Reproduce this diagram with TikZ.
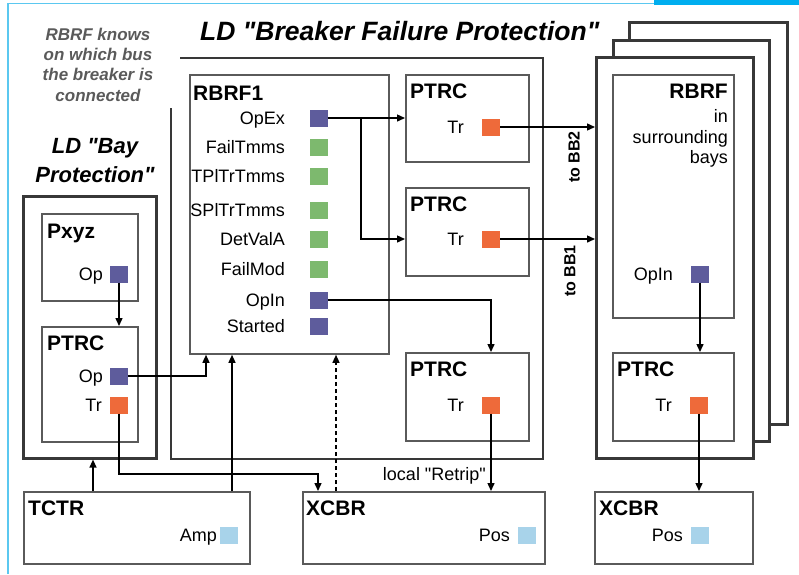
\documentclass[tikz,border=0pt]{standalone}
\usepackage{fontspec}
\setmainfont{Liberation Sans}[Ligatures=TeXOff]
\usetikzlibrary{arrows.meta}
\definecolor{sqpurple}{HTML}{5E5C9C}
\definecolor{sqgreen}{HTML}{7DB96E}
\definecolor{sqorange}{HTML}{EE6A3A}
\definecolor{sqblue}{HTML}{A8D3EA}
\definecolor{framecol}{HTML}{5BC8F0}
\definecolor{framecoltwo}{HTML}{00AEEF}
\definecolor{ldline}{HTML}{383838}
\definecolor{lnline}{HTML}{5A5A5A}
\definecolor{notegray}{HTML}{5A5A5A}
\begin{document}
\begin{tikzpicture}[x=1pt,y=-1pt,
  ldbox/.style={draw=ldline, line width=2.6pt, fill=white, anchor=north west, inner sep=0pt},
  lnbox/.style={draw=lnline, line width=1.8pt, fill=white, anchor=north west, inner sep=0pt},
  sq/.style={minimum width=18pt, minimum height=17pt, inner sep=0pt},
  head/.style={font=\fontsize{21}{21}\bfseries\selectfont, inner sep=0pt, anchor=base west},
  lab/.style={font=\fontsize{18}{18}\selectfont, inner sep=0pt, anchor=base east},
  note/.style={font=\fontsize{17}{17}\bfseries\itshape\selectfont, text=notegray, inner sep=0pt, anchor=base},
  arr/.style={draw=black, line width=1.4pt, -{Triangle[length=8pt,width=7pt]}},
  dasharr/.style={arr, dashed, dash pattern=on 4pt off 3pt}
]
\path[use as bounding box] (0,0) rectangle (799,574);
% frame
\draw[framecol, line width=1.5pt] (8,574) -- (8,3.5) -- (654,3.5);
\fill[framecoltwo] (654,0) rectangle (799,4.5);

% annotation
\node[note] (n1) at (98,40) {RBRF knows};
\node[note] (n2) at (98,60) {on which bus};
\node[note] (n3) at (98,80) {the breaker is};
\node[note] (n4) at (98,101) {connected};

% titles
\node[anchor=base west, inner sep=0pt, font=\fontsize{26.5}{26.5}\bfseries\itshape\selectfont] (title) at (200,40) {LD "Breaker Failure Protection"};
\node[anchor=base, inner sep=0pt, font=\fontsize{22}{22}\bfseries\itshape\selectfont] (bayt1) at (95,153) {LD "Bay};
\node[anchor=base, inner sep=0pt, font=\fontsize{22}{22}\bfseries\itshape\selectfont] (bayt2) at (95,182) {Protection"};

% LD boxes
\draw[ldline, line width=2.6pt] (180,58) -- (543,58) -- (543,459) -- (171,459) -- (171,108);
\node[ldbox, minimum width=133pt, minimum height=262pt] (bay) at (22,195) {};
\node[ldbox, minimum width=158pt, minimum height=402pt] (bk3) at (628,21) {};
\node[ldbox, minimum width=156pt, minimum height=401pt] (bk2) at (612,39) {};
\node[ldbox, minimum width=157pt, minimum height=401pt] (front) at (595,56) {};

% LN boxes
\node[lnbox, minimum width=96pt, minimum height=87pt] (pxyz) at (41,213) {};
\node[lnbox, minimum width=96pt, minimum height=115pt] (ptl) at (41,326) {};
\node[lnbox, minimum width=199pt, minimum height=279pt] (rbrf) at (189,74) {};
\node[lnbox, minimum width=123pt, minimum height=87pt] (pt1) at (405,74) {};
\node[lnbox, minimum width=123pt, minimum height=88pt] (pt2) at (405,187) {};
\node[lnbox, minimum width=123pt, minimum height=88pt] (pt3) at (405,352) {};
\node[lnbox, minimum width=121pt, minimum height=243pt] (rbrfr) at (612,74) {};
\node[lnbox, minimum width=121pt, minimum height=88pt] (ptr) at (612,352) {};
\node[lnbox, minimum width=226pt, minimum height=72pt] (tctr) at (23,491) {};
\node[lnbox, minimum width=242pt, minimum height=72pt] (xm) at (302,491) {};
\node[lnbox, minimum width=158pt, minimum height=72pt] (xr) at (594,491) {};

% headings
\node[head] (pxyzT) at (47,238) {Pxyz};
\node[head] (ptlT) at (47,350) {PTRC};
\node[head] (rbrfT) at (193,100) {RBRF1};
\node[head] (pt1T) at (410,98) {PTRC};
\node[head] (pt2T) at (410,211) {PTRC};
\node[head] (pt3T) at (410,376) {PTRC};
\node[head, anchor=base east] (rbrfrT) at (728,98) {RBRF};
\node[head] (ptrT) at (617,376) {PTRC};
\node[head] (tctrT) at (28,515) {TCTR};
\node[head] (xmT) at (306,515) {XCBR};
\node[head] (xrT) at (599,515) {XCBR};

\node[lab] (rin) at (728,122) {in};
\node[lab] (rsur) at (728,143) {surrounding};
\node[lab] (rbays) at (728,163) {bays};

% squares and labels
\node[sq, fill=sqpurple] (pxop) at (119,274) {};
\node[lab] (pxopL) at (103,280.5) {Op};
\node[sq, fill=sqpurple] (plop) at (119,376) {};
\node[lab] (plopL) at (103,382.5) {Op};
\node[sq, fill=sqorange] (pltr) at (119,405) {};
\node[lab] (pltrL) at (102,411.5) {Tr};

\node[sq, fill=sqpurple] (opex) at (318.5,118) {};
\node[lab] (opexL) at (285,124.5) {OpEx};
\node[sq, fill=sqgreen] (failt) at (318.5,147) {};
\node[lab] (failtL) at (285,153.5) {FailTmms};
\node[sq, fill=sqgreen] (tpl) at (318.5,176) {};
\node[lab] (tplL) at (285,182.5) {TPlTrTmms};
\node[sq, fill=sqgreen] (spl) at (318.5,210) {};
\node[lab] (splL) at (285,216.5) {SPlTrTmms};
\node[sq, fill=sqgreen] (detv) at (318.5,239) {};
\node[lab] (detvL) at (285,245.5) {DetValA};
\node[sq, fill=sqgreen] (failm) at (318.5,269) {};
\node[lab] (failmL) at (285,275.5) {FailMod};
\node[sq, fill=sqpurple] (opin) at (318.5,300) {};
\node[lab] (opinL) at (285,306.5) {OpIn};
\node[sq, fill=sqpurple] (start) at (318.5,326) {};
\node[lab] (startL) at (285,332.5) {Started};

\node[sq, fill=sqorange] (tr1) at (491,127) {};
\node[lab] (tr1L) at (464,133.5) {Tr};
\node[sq, fill=sqorange] (tr2) at (491,239) {};
\node[lab] (tr2L) at (464,245.5) {Tr};
\node[sq, fill=sqorange] (tr3) at (491,405) {};
\node[lab] (tr3L) at (464,411.5) {Tr};

\node[sq, fill=sqpurple] (opinr) at (700,274) {};
\node[lab] (opinrL) at (673,280.5) {OpIn};
\node[sq, fill=sqorange] (trr) at (699,405) {};
\node[lab] (trrL) at (672,411.5) {Tr};

\node[sq, fill=sqblue] (amp) at (229,535) {};
\node[lab] (ampL) at (217,541.5) {Amp};
\node[sq, fill=sqblue] (posm) at (527,535) {};
\node[lab] (posmL) at (510,541.5) {Pos};
\node[sq, fill=sqblue] (posr) at (700,535) {};
\node[lab] (posrL) at (683,541.5) {Pos};

% connectors
\draw[arr] (pxop.south) -- (pxop.south |- ptl.north);
\draw[arr] (opex.east) -- (opex.east -| pt1.west);
\coordinate (br) at (361,118);
\draw[arr] (br) |- (tr2 -| pt2.west);
\draw[arr] (opin.east) -| (tr3 |- pt3.north);
\draw[arr] (tr1.east) -- (tr1 -| front.west);
\draw[arr] (tr2.east) -- (tr2 -| front.west);
\draw[arr] (opinr.south) -- (opinr |- ptr.north);
\draw[arr] (trr.south) -- (trr |- xr.north);
\draw[arr] (tr3.south) -- (tr3 |- xm.north);
\draw[arr] ([xshift=70pt]tctr.north west) -- ([xshift=70pt]tctr.north west |- bay.south);
\draw[arr] ([xshift=209pt]tctr.north west) -- ([xshift=209pt]tctr.north west |- rbrf.south);
\draw[arr] (plop.east) -| ([xshift=17pt]rbrf.south west);
\draw[arr] (pltr.south) |- ([xshift=16pt,yshift=17pt]xm.north west) -- ([xshift=16pt]xm.north west);
\draw[dasharr] ([xshift=34pt]xm.north west) -- ([xshift=34pt]xm.north west |- rbrf.south);

% connector labels
\node[lab] (retrip) at (486,480) {local "Retrip"};
\node[inner sep=0pt, rotate=90, font=\fontsize{16}{16}\bfseries\selectfont] (bb2) at (574,157) {to BB2};
\node[inner sep=0pt, rotate=90, font=\fontsize{16}{16}\bfseries\selectfont] (bb1) at (570,271) {to BB1};
\end{tikzpicture}
\end{document}
